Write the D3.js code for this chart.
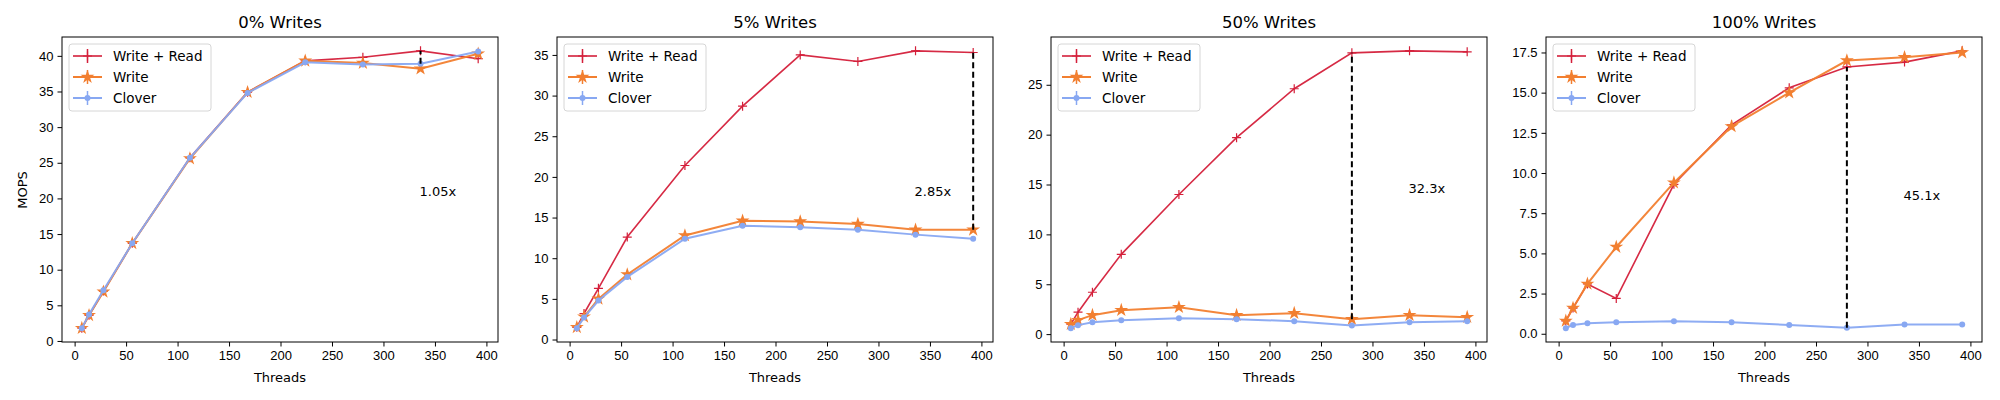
<!DOCTYPE html>
<html><head><meta charset="utf-8">
<script src="https://cdn.jsdelivr.net/npm/d3@7"></script>
<style>body{margin:0;background:#fff}svg{font-family:"DejaVu Sans",sans-serif}</style>
</head><body><svg id="c" width="2000" height="400"></svg>
<script>
const threads = [7, 14, 28, 56, 112, 168, 224, 280, 336, 392];
const titles = ["0% Writes", "5% Writes", "50% Writes", "100% Writes"];
const seriesNames = ["Write + Read", "Write", "Clover"];
const writeRead = [
  [1.8, 3.6, 7.0, 13.7, 25.7, 34.9, 39.3, 39.8, 40.7, 39.6],
  [1.5, 3.2, 6.3, 12.6, 21.4, 28.7, 35.0, 34.2, 35.5, 35.3],
  [1.0, 2.2, 4.2, 8.0, 14.0, 19.7, 24.6, 28.2, 28.4, 28.3],
  [0.8, 1.6, 3.1, 2.2, 9.3, 13.0, 15.3, 16.6, 16.9, 17.6]
];
const writeOnly = [
  [1.8, 3.6, 6.9, 13.7, 25.6, 34.9, 39.3, 39.0, 38.2, 40.3],
  [1.5, 2.8, 5.0, 8.0, 12.8, 14.6, 14.5, 14.2, 13.5, 13.5],
  [1.0, 1.4, 1.9, 2.4, 2.7, 1.9, 2.1, 1.5, 1.9, 1.7],
  [0.8, 1.6, 3.1, 5.4, 9.4, 12.9, 15.0, 17.0, 17.2, 17.5]
];
const clover = [
  [1.8, 3.7, 7.1, 13.7, 25.7, 34.8, 39.1, 38.8, 38.9, 40.6],
  [1.4, 2.7, 4.8, 7.7, 12.4, 14.0, 13.8, 13.5, 12.9, 12.4],
  [0.6, 0.9, 1.2, 1.4, 1.6, 1.5, 1.3, 0.87, 1.2, 1.3],
  [0.35, 0.55, 0.65, 0.72, 0.78, 0.72, 0.55, 0.37, 0.58, 0.58]
];
const speedups = ["1.05x", "2.85x", "32.3x", "45.1x"];
const gapX = [336, 392, 280, 280];
const gapLo = [38.9, 13.5, 1.5, 0.37];
const gapHi = [40.7, 35.3, 28.2, 16.6];
const yTicks = [
  [0, 5, 10, 15, 20, 25, 30, 35, 40],
  [0, 5, 10, 15, 20, 25, 30, 35],
  [0, 5, 10, 15, 20, 25],
  [0, 2.5, 5, 7.5, 10, 12.5, 15, 17.5]
];
const xTicks = [0, 50, 100, 150, 200, 250, 300, 350, 400];

const colors = ["#d41f3a", "#f27f30", "#88a8f2"];
const widths = [1.6, 2, 2];
const svg = d3.select("#c");
const lefts = [62, 557, 1051, 1546], W = 436, plotTop = 37, plotBottom = 342;

function marker(g, kind, x, y, col) {
  if (kind === 0) {
    g.append("path").attr("d", `M${x-4.5},${y}H${x+4.5}M${x},${y-4.5}V${y+4.5}`)
      .attr("stroke", col).attr("stroke-width", 1.2).attr("fill", "none");
  } else if (kind === 1) {
    g.append("path").attr("d", d3.symbol(d3.symbolStar, 60)()).attr("transform", `translate(${x},${y})`).attr("fill", col);
  } else {
    g.append("circle").attr("cx", x).attr("cy", y).attr("r", 3).attr("fill", col);
  }
}

titles.forEach((t, p) => {
  const L = lefts[p];
  const g = svg.append("g");
  const all = writeRead[p].concat(writeOnly[p], clover[p]);
  const mn = d3.min(all), mx = d3.max(all), pad = (mx - mn) * 0.05;
  const x = d3.scaleLinear().domain([7 - 19.25, 392 + 19.25]).range([L, L + W]);
  const y = d3.scaleLinear().domain([mn - pad, mx + pad]).range([plotBottom, plotTop]);
  const fmt = p === 3 ? d3.format(".1f") : d3.format("d");
  g.append("g").attr("transform", `translate(0,${plotBottom})`)
    .call(d3.axisBottom(x).tickValues(xTicks).tickSize(4.5).tickPadding(4))
    .call(a => { a.select(".domain").remove(); a.selectAll("text").attr("font-size", 13).attr("fill", "#000"); });
  g.append("g").attr("transform", `translate(${L},0)`)
    .call(d3.axisLeft(y).tickValues(yTicks[p]).tickFormat(fmt).tickSize(4.5).tickPadding(4))
    .call(a => { a.select(".domain").remove(); a.selectAll("text").attr("font-size", 13).attr("fill", "#000"); });
  const data = [writeRead[p], writeOnly[p], clover[p]];
  data.forEach((vals, s) => {
    const line = d3.line().x((d, i) => x(threads[i])).y(d => y(d));
    g.append("path").datum(vals).attr("d", line).attr("fill", "none")
      .attr("stroke", colors[s]).attr("stroke-width", widths[s]).attr("opacity", 0.95);
    vals.forEach((v, i) => marker(g, s, x(threads[i]), y(v), colors[s]));
  });
  g.append("line").attr("x1", x(gapX[p])).attr("x2", x(gapX[p]))
    .attr("y1", y(gapLo[p])).attr("y2", y(gapHi[p]))
    .attr("stroke", "#000").attr("stroke-width", 2).attr("stroke-dasharray", "6,3.5");
  g.append("text").attr("x", x(335)).attr("y", y(gapHi[p] / 2)).attr("font-size", 13).text(speedups[p]);
  g.append("rect").attr("x", L).attr("y", plotTop).attr("width", W).attr("height", plotBottom - plotTop)
    .attr("fill", "none").attr("stroke", "#000").attr("stroke-width", 1);
  g.append("text").attr("x", L + W / 2).attr("y", 28).attr("text-anchor", "middle").attr("font-size", 16.5).text(t);
  g.append("text").attr("x", L + W / 2).attr("y", 382).attr("text-anchor", "middle").attr("font-size", 13).text("Threads");
  const lg = g.append("g");
  lg.append("rect").attr("x", L + 7).attr("y", 44).attr("width", 142).attr("height", 67).attr("rx", 3)
    .attr("fill", "#fff").attr("fill-opacity", 0.8).attr("stroke", "#d6d6d6");
  seriesNames.forEach((n, s) => {
    const yy = 56 + s * 21;
    lg.append("line").attr("x1", L + 11).attr("x2", L + 40).attr("y1", yy).attr("y2", yy)
      .attr("stroke", colors[s]).attr("stroke-width", widths[s]);
    lg.append("line").attr("x1", L + 25.5).attr("x2", L + 25.5).attr("y1", yy - 7).attr("y2", yy + 7)
      .attr("stroke", colors[s]).attr("stroke-width", 1.5);
    marker(lg, s, L + 25.5, yy, colors[s]);
    lg.append("text").attr("x", L + 51).attr("y", yy + 5).attr("font-size", 13.5).text(n);
  });
});
svg.append("text").attr("transform", "translate(27,190) rotate(-90)").attr("text-anchor", "middle").attr("font-size", 13).text("MOPS");
</script></body></html>
